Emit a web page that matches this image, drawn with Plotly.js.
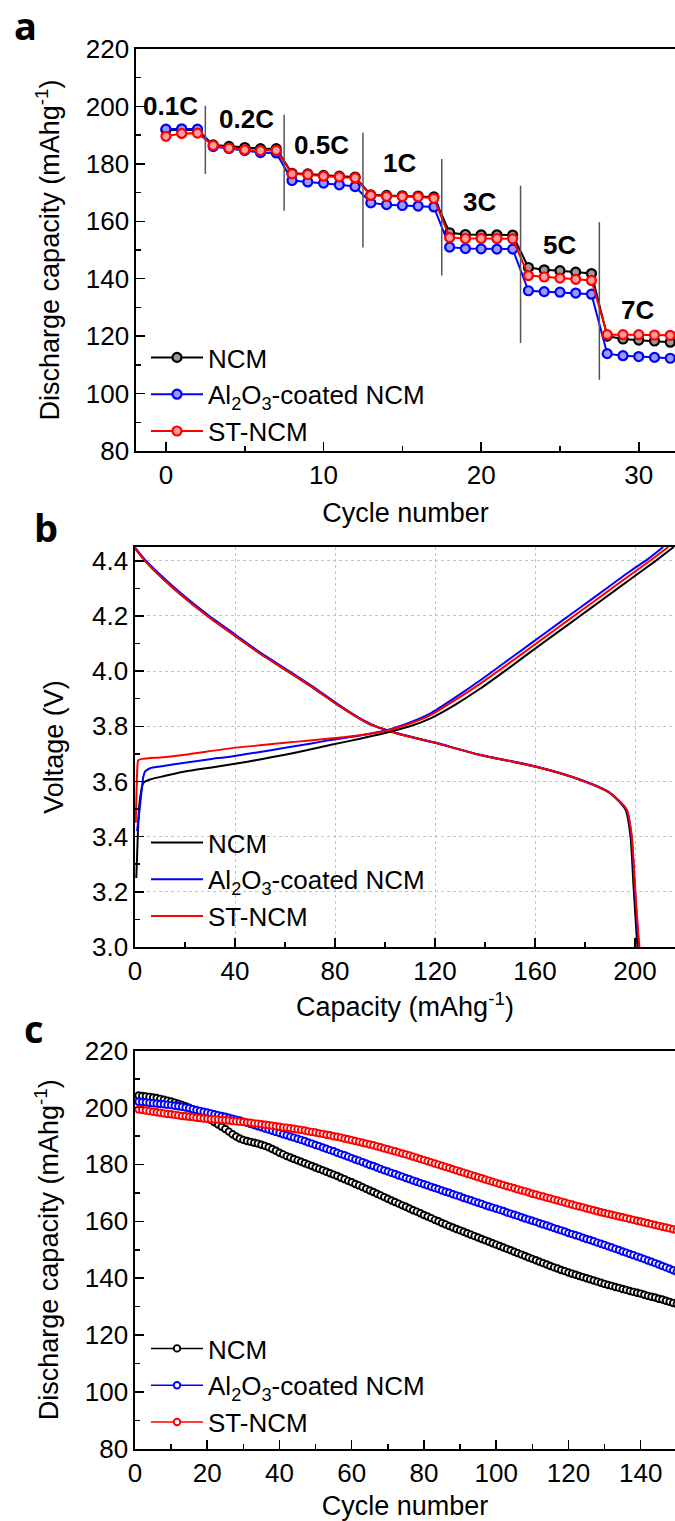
<!DOCTYPE html>
<html><head><meta charset="utf-8">
<script src="https://cdn.plot.ly/plotly-3.0.1.min.js"></script>
<style>html,body{margin:0;padding:0;background:#fff}#chart{width:675px;height:1521px}</style>
</head><body><div id="chart"></div>
<script>
// ---------- Panel a : rate capability ----------
const cycA = [0,1,2,3,4,5,6,7,8,9,10,11,12,13,14,15,16,17,18,19,20,21,22,23,24,25,26,27,28,29,30,31,32];
const ncmA = [191.8,191.9,191.8,186.6,186.1,185.7,185.3,185.3,176.7,176.5,176.0,175.7,175.4,169.2,169.0,168.9,168.8,168.5,156.0,155.4,155.3,155.3,155.2,143.9,143.1,142.8,142.3,141.8,120.0,119.0,118.6,118.3,117.9];
const alA  = [192.1,192.2,192.1,186.0,185.3,184.6,183.9,183.8,174.2,173.7,173.3,172.7,172.1,166.4,165.8,165.5,165.3,165.0,151.0,150.5,150.4,150.3,150.3,135.8,135.5,135.3,135.0,134.6,113.9,113.2,112.9,112.6,112.3];
const stA  = [189.6,190.6,190.7,186.4,185.5,184.9,184.6,184.7,176.5,176.3,175.7,175.5,175.1,169.0,168.7,168.6,168.5,168.0,154.3,154.0,154.0,154.0,153.9,141.1,140.6,140.2,139.8,139.4,120.5,120.5,120.5,120.4,120.3];
const sepX   = [2.5,7.5,12.5,17.5,22.5,27.5];
const sepTop = [200.2,197.1,190.8,181.7,172.4,159.7];
const sepBot = [176.5,163.7,150.9,141.1,117.6,104.8];
const rateText = ['0.1C','0.2C','0.5C','1C','3C','5C','7C'];
const rateX = [0.3,5.1,9.9,14.8,19.9,25.0,29.9];
const rateY = [200.0,195.7,186.4,180.3,166.7,151.8,129.2];

// ---------- Panel b : voltage profiles ----------
const ncmChgCap = [0.5,0.8,1.1,1.6,2.4,3.3,6,11.3,20,30,40,50,60,70,78,90,100,110,118,128,138,148,158,168,178,188,198,208,215.5];
const ncmChgV   = [3.25,3.32,3.40,3.50,3.56,3.594,3.607,3.619,3.636,3.650,3.664,3.680,3.697,3.716,3.732,3.755,3.776,3.800,3.828,3.878,3.936,4.001,4.068,4.134,4.200,4.266,4.332,4.398,4.45];
const alChgCap  = [0.8,1.5,2.2,2.8,3.3,4,6,11.3,20,30,38,50,60,70,78,90,100.7,110,118,128,138,148,158,168,178,188,198,205,211.3];
const alChgV    = [3.42,3.47,3.53,3.58,3.616,3.636,3.648,3.656,3.668,3.681,3.690,3.707,3.722,3.737,3.750,3.767,3.786,3.814,3.846,3.904,3.966,4.032,4.098,4.164,4.230,4.296,4.362,4.405,4.45];
const stChgCap  = [0.3,0.5,0.8,1.0,1.3,3,11.3,20,38,50,60,70,78,90,100.7,110,118,128,138,148,158,168,178,188,198,206,213.3];
const stChgV    = [3.45,3.52,3.62,3.66,3.677,3.682,3.688,3.697,3.720,3.731,3.740,3.749,3.756,3.768,3.784,3.810,3.840,3.895,3.954,4.018,4.084,4.150,4.216,4.282,4.348,4.400,4.45];
const ncmDisCap = [0,4,10,18,29,40,50,61,72,82,88,93,97,100.7,105,110,120,138,160,178,190,196.2,198.2,199.4,200.6,201.0];
const ncmDisV   = [4.445,4.40,4.345,4.28,4.20,4.128,4.064,4.00,3.935,3.872,3.838,3.812,3.797,3.786,3.774,3.762,3.740,3.696,3.654,3.606,3.558,3.498,3.402,3.222,3.05,3.0];
const alDisCap  = [0,4,10,18,29,40,50,61,72,82,88,93,97,100.7,105,110,120,138,160,178,190,196.6,198.6,199.9,201.1,201.6];
const alDisV    = [4.448,4.404,4.350,4.285,4.205,4.133,4.068,4.004,3.939,3.875,3.840,3.814,3.798,3.787,3.775,3.763,3.741,3.697,3.655,3.607,3.559,3.498,3.402,3.222,3.05,3.0];
const stDisCap  = [0,4,10,18,29,40,50,61,72,82,88,93,97,100.7,105,110,120,138,160,178,190,196.7,198.7,200.0,201.3,201.8];
const stDisV    = [4.445,4.40,4.345,4.28,4.20,4.128,4.064,4.00,3.935,3.872,3.838,3.812,3.797,3.785,3.773,3.762,3.740,3.696,3.654,3.606,3.558,3.498,3.402,3.222,3.05,3.0];

// ---------- Panel c : cycling ----------
const ncmC = [204.2,204.0,203.9,203.7,203.5,203.3,203.0,202.7,202.4,202.1,
201.7,201.3,200.9,200.4,199.9,199.3,198.7,198.0,197.3,196.5,
195.6,194.8,194.0,193.2,192.4,191.5,190.6,189.8,189.1,188.6,
188.2,187.9,187.6,187.3,186.9,186.5,186.0,185.4,184.8,184.1,
183.5,182.9,182.4,181.9,181.4,180.9,180.4,179.9,179.4,178.9,
178.4,177.9,177.4,176.9,176.4,175.9,175.3,174.8,174.2,173.7,
173.1,172.6,172.0,171.4,170.8,170.3,169.7,169.1,168.5,167.9,
167.3,166.8,166.2,165.6,165.1,164.5,163.9,163.4,162.8,162.2,
161.7,161.1,160.5,160.0,159.4,158.9,158.3,157.8,157.3,156.8,
156.3,155.8,155.3,154.8,154.3,153.8,153.3,152.8,152.3,151.8,
151.3,150.8,150.3,149.8,149.3,148.8,148.3,147.8,147.3,146.8,
146.3,145.8,145.3,144.8,144.3,143.8,143.4,142.9,142.5,142.0,
141.6,141.2,140.8,140.4,140.0,139.6,139.2,138.8,138.4,138.0,
137.6,137.3,136.9,136.6,136.2,135.9,135.5,135.2,134.9,134.6,
134.2,133.8,133.5,133.2,132.8,132.5,132.1,131.7,131.3,130.9];
const alC = [202.0,201.9,201.8,201.6,201.5,201.4,201.2,201.1,200.9,200.8,
200.6,200.4,200.2,200.0,199.7,199.4,199.1,198.8,198.5,198.2,
197.9,197.6,197.3,197.0,196.7,196.4,196.0,195.7,195.4,195.0,
194.6,194.2,193.8,193.4,193.0,192.6,192.2,191.8,191.4,191.0,
190.6,190.2,189.8,189.4,189.0,188.6,188.2,187.7,187.3,186.8,
186.4,185.9,185.5,185.0,184.6,184.1,183.6,183.2,182.7,182.2,
181.7,181.3,180.8,180.3,179.8,179.4,178.9,178.4,177.9,177.5,
177.0,176.6,176.1,175.7,175.2,174.8,174.3,173.9,173.4,173.0,
172.6,172.1,171.7,171.3,170.8,170.4,170.0,169.5,169.1,168.7,
168.2,167.8,167.4,166.9,166.5,166.1,165.6,165.2,164.8,164.4,
164.0,163.6,163.1,162.7,162.3,161.9,161.4,161.0,160.6,160.2,
159.8,159.3,158.9,158.5,158.1,157.6,157.2,156.8,156.4,155.9,
155.5,155.1,154.7,154.2,153.8,153.4,153.0,152.5,152.1,151.7,
151.2,150.8,150.3,149.9,149.4,149.0,148.5,148.1,147.6,147.2,
146.7,146.2,145.8,145.3,144.8,144.3,143.8,143.3,142.8,142.3];
const stC = [199.3,199.1,198.9,198.7,198.5,198.3,198.1,197.9,197.7,197.6,
197.4,197.2,197.0,196.9,196.7,196.6,196.4,196.3,196.1,196.0,
195.9,195.8,195.7,195.6,195.5,195.4,195.2,195.1,195.0,194.9,
194.7,194.6,194.4,194.3,194.1,193.9,193.8,193.6,193.4,193.2,
193.0,192.9,192.7,192.5,192.3,192.1,191.9,191.6,191.4,191.2,
190.9,190.7,190.4,190.2,189.9,189.7,189.4,189.1,188.8,188.5,
188.2,187.9,187.6,187.3,187.0,186.7,186.3,186.0,185.6,185.3,
184.9,184.6,184.2,183.8,183.5,183.1,182.7,182.3,181.9,181.5,
181.1,180.7,180.3,179.9,179.5,179.1,178.7,178.3,177.9,177.5,
177.1,176.7,176.3,175.9,175.5,175.1,174.7,174.3,173.9,173.5,
173.1,172.7,172.3,172.0,171.6,171.2,170.8,170.5,170.1,169.7,
169.4,169.0,168.7,168.3,168.0,167.6,167.3,166.9,166.6,166.2,
165.9,165.5,165.2,164.9,164.5,164.2,163.9,163.5,163.2,162.9,
162.6,162.3,162.0,161.7,161.4,161.1,160.8,160.5,160.2,159.9,
159.6,159.3,159.0,158.7,158.4,158.1,157.8,157.5,157.2,156.9];
const cycC = ncmC.map((v,i)=>i+1);

const names = ['NCM','Al<sub>2</sub>O<sub>3</sub>-coated NCM','ST-NCM'];
const colors = ['#000000','#0000ff','#ff0000'];
const tints = ['#9a9a9a','#9a9aff','#ff9e9e'];

const FONT = 'Liberation Sans';
const traces = [];

// panel a traces
[ncmA, alA, stA].forEach((ys,i)=>{
  traces.push({x:cycA, y:ys, type:'scatter', mode:'lines+markers', name:names[i],
    xaxis:'x', yaxis:'y', legend:'legend',
    line:{color:colors[i], width:2},
    marker:{symbol:'circle', size:9, color:tints[i], line:{color:colors[i], width:2.2}}});
});
// panel b traces
const chg = [[ncmChgCap,ncmChgV],[alChgCap,alChgV],[stChgCap,stChgV]];
const dis = [[ncmDisCap,ncmDisV],[alDisCap,alDisV],[stDisCap,stDisV]];
[0,1,2].forEach(i=>{
  traces.push({x:dis[i][0], y:dis[i][1], type:'scatter', mode:'lines', name:names[i],
    xaxis:'x2', yaxis:'y2', legend:'legend2', showlegend:false, legendgroup:'b'+i,
    line:{color:colors[i], width:2, shape:'spline', smoothing:0.6}});
});
[0,1,2].forEach(i=>{
  traces.push({x:chg[i][0], y:chg[i][1], type:'scatter', mode:'lines', name:names[i],
    xaxis:'x2', yaxis:'y2', legend:'legend2', legendgroup:'b'+i,
    line:{color:colors[i], width:2, shape:'spline', smoothing:0.6}});
});
// panel c traces
[ncmC, alC, stC].forEach((ys,i)=>{
  traces.push({x:cycC, y:ys, type:'scatter', mode:'lines+markers', name:names[i],
    xaxis:'x3', yaxis:'y3', legend:'legend3',
    line:{color:colors[i], width:1.5},
    marker:{symbol:'circle', size:6.5, color:'#ffffff', line:{color:colors[i], width:1.9}}});
});

const H = 1521, W = 675;
const py = p => 1 - p/H;

function axis(extra){
  return Object.assign({showline:true, linecolor:'#000', linewidth:1.6, ticks:'inside', ticklen:9,
    tickwidth:1.5, tickcolor:'#000', tickfont:{family:FONT, size:26, color:'#000'},
    zeroline:false, showgrid:false, fixedrange:true}, extra);
}
function minor(d){ return {dtick:d, ticks:'inside', ticklen:5, tickwidth:1.5, tickcolor:'#000', showgrid:false}; }
const titleFont = {family:FONT, size:27, color:'#000'};

const shapes = sepX.map((x,i)=>({type:'line', xref:'x', yref:'y', x0:x, x1:x, y0:sepBot[i], y1:sepTop[i],
  line:{color:'#555555', width:1.5}}));

const annotations = rateText.map((t,i)=>({text:t, x:rateX[i], y:rateY[i], xref:'x', yref:'y', showarrow:false,
  font:{family:FONT, size:26, color:'#000', weight:'bold'}}));
[['a',25,25],['b',46,527],['c',34,1028]].forEach(p=>{
  annotations.push({text:p[0], x:p[1]/W, y:py(p[2]), xref:'paper', yref:'paper', showarrow:false,
    xanchor:'center', yanchor:'middle', font:{family:'Open Sans', size:38, color:'#000', weight:'bold'}});
});

function leg(xp, ytop){
  return {x:xp/W, y:py(ytop), xanchor:'left', yanchor:'top', bgcolor:'rgba(0,0,0,0)', borderwidth:0,
    font:{family:FONT, size:26, color:'#000'}, itemwidth:52, tracegroupgap:0, traceorder:'normal'};
}

const layout = {
  width:W, height:H, margin:{l:0,r:0,t:0,b:0}, paper_bgcolor:'#fff', plot_bgcolor:'#fff',
  font:{family:FONT, color:'#000'},
  xaxis: axis({domain:[136/W,1], range:[-1.9,32.3], anchor:'y', mirror:true, dtick:10, tick0:0, minor:minor(5),
    title:{text:'Cycle number', font:titleFont, standoff:14}}),
  yaxis: axis({domain:[py(451), py(49)], range:[80,220], anchor:'x', dtick:20, tick0:80, minor:minor(10),
    title:{text:'Discharge capacity (mAhg<sup>-1</sup>)', font:titleFont, standoff:18}}),
  xaxis2: axis({domain:[135/W,1], range:[0,216], anchor:'y2', mirror:true, dtick:40, tick0:0, minor:minor(20),
    showgrid:true, gridcolor:'#c4c4c4', griddash:'dot', gridwidth:1,
    title:{text:'Capacity (mAhg<sup>-1</sup>)', font:titleFont, standoff:12}}),
  yaxis2: axis({domain:[py(947), py(547)], range:[3.0,4.45], anchor:'x2', dtick:0.2, tick0:3.0, tickformat:'.1f', minor:minor(0.1),
    showgrid:true, gridcolor:'#c4c4c4', griddash:'dot', gridwidth:1,
    title:{text:'Voltage (V)', font:titleFont, standoff:20}}),
  xaxis3: axis({domain:[135/W,1], range:[0,149.5], anchor:'y3', mirror:true, dtick:20, tick0:0, minor:minor(10),
    title:{text:'Cycle number', font:titleFont, standoff:14}}),
  yaxis3: axis({domain:[py(1449), py(1050.5)], range:[80,220], anchor:'x3', dtick:20, tick0:80, minor:minor(10),
    title:{text:'Discharge capacity (mAhg<sup>-1</sup>)', font:titleFont, standoff:18}}),
  legend: leg(146, 334),
  legend2: leg(146, 819),
  legend3: leg(146, 1325),
  shapes: shapes,
  annotations: annotations
};

Plotly.newPlot('chart', traces, layout, {staticPlot:true, displayModeBar:false});
</script></body></html>
